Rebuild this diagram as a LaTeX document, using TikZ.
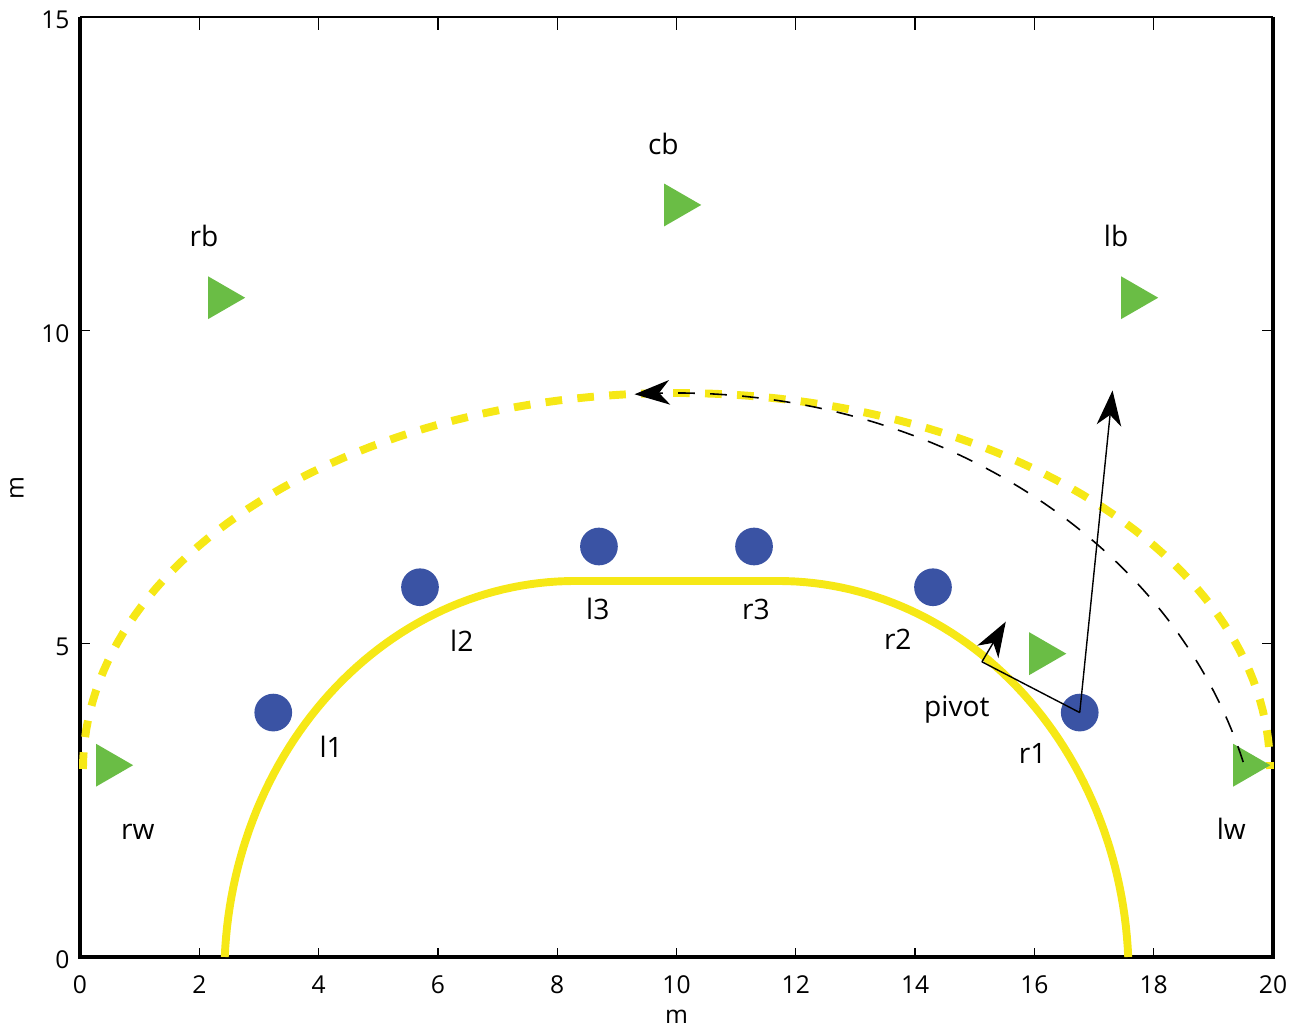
\documentclass[tikz,border=0pt]{standalone}
\usepackage{fontspec}
\setmainfont{Open Sans}
\usetikzlibrary{arrows.meta, shapes.geometric}

\definecolor{trackyellow}{RGB}{246,232,22}
\definecolor{dotblue}{RGB}{58,83,164}
\definecolor{conegreen}{RGB}{106,189,69}

\begin{document}
\begin{tikzpicture}[
    x=1.193cm, y=1.2533cm,
    >={Stealth[length=20pt, width=14pt, inset=6pt]},
    every node/.style={font=\fontsize{16}{18}\selectfont},
    tick/.style={font=\fontsize{14}{16}\selectfont, inner sep=0pt},
    track/.style={trackyellow, line width=4.5pt},
    trail/.style={line width=0.9pt, dash pattern=on 9.5pt off 8.7pt},
    dot/.style={circle, fill=dotblue, minimum size=0.754cm, inner sep=0pt},
    cone/.style={regular polygon, regular polygon sides=3, shape border rotate=-90,
                 fill=conegreen, minimum size=0.99cm, inner sep=0pt},
]
\useasboundingbox (-1.341,-1.117) rectangle (20.302,15.271);
% frame and ticks
\draw[line width=1pt] (0,15) -- (20,15);
\draw[line width=2.8pt] (20,15) -- (20,0) -- (0,0) -- (0,15);
\foreach \x in {2,4,...,18} {
  \draw[line width=0.7pt] (\x,0) -- ++(0,0.15);
  \draw[line width=0.7pt] (\x,15) -- ++(0,-0.2);
}
\foreach \y in {5,10} {
  \draw[line width=0.7pt] (0,\y) -- ++(0.16,0);
  \draw[line width=0.7pt] (20,\y) -- ++(-0.18,0);
}
\foreach \x in {0,2,...,20}
  \node[tick] (bx\x) at (\x,-0.447) {\x};
\foreach \y in {0,5,10,15}
  \node[tick, anchor=east] (ly\y) at (-0.17,\y-0.05) {\y};
\node[tick] (xtitle) at (10,-0.957) {m};
\node[tick, rotate=90] (ytitle) at (-1.056,7.48) {m};
% the track and the outer run
\draw[track] plot[domain=2.73:90, samples=60] ({8.3-5.88*cos(\x)},{-0.3+6.3*sin(\x)})
   -- plot[domain=90:2.73, samples=60] ({11.7+5.88*cos(\x)},{-0.3+6.3*sin(\x)});
\draw[track, dash pattern=on 9.5pt off 8.7pt]
   plot[domain=180:0, samples=120] ({10+9.95*cos(\x)},{3+6*sin(\x)});
% cones
\node[cone] (rw) at (0.476,3.06) {};
\node[cone] (rb) at (2.354,10.52) {};
\node[cone] (cb) at (10.0,12.0) {};
\node[cone] (lb) at (17.66,10.52) {};
\node[cone] (lw) at (19.54,3.06) {};
\node[cone] (ball) at (16.12,4.84) {};
% path of the wing
\draw[trail, ->] plot[domain=15.3:94.1, samples=80] ({10+9.85*cos(\x)},{1+8*sin(\x)});
% players
\node[dot] (l1) at (3.24,3.9) {};
\node[dot] (l2) at (5.7,5.9) {};
\node[dot] (l3) at (8.7,6.55) {};
\node[dot] (r3) at (11.3,6.55) {};
\node[dot] (r2) at (14.3,5.9) {};
\node[dot] (r1) at (16.76,3.9) {};
% labels
\node[anchor=base] (l1lab) at (4.21,3.175) {l1};
\node[anchor=base] (l2lab) at (6.40,4.88) {l2};
\node[anchor=base] (l3lab) at (8.68,5.38) {l3};
\node[anchor=base] (r3lab) at (11.33,5.38) {r3};
\node[anchor=base] (r2lab) at (13.71,4.9) {r2};
\node[anchor=base] (r1lab) at (15.97,3.08) {r1};
\node[anchor=base] (pivlab) at (14.70,3.845) {pivot};
\node[anchor=base] (rwlab) at (0.97,1.878) {rw};
\node[anchor=base] (lwlab) at (19.30,1.878) {lw};
\node[anchor=base] (rblab) at (2.08,11.33) {rb};
\node[anchor=base] (lblab) at (17.37,11.33) {lb};
\node[anchor=base] (cblab) at (9.78,12.81) {cb};
% pivot arrows
\coordinate (pv) at (15.12,4.71);
\coordinate (pvtip) at (15.52,5.35);
\coordinate (aim) at (17.31,9.04);
\draw[line width=0.8pt] (r1.center) -- (pv);
\draw[line width=0.8pt, ->] (pv) -- (pvtip);
\draw[line width=0.8pt, ->] (r1.center) -- (aim);
\end{tikzpicture}
\end{document}
